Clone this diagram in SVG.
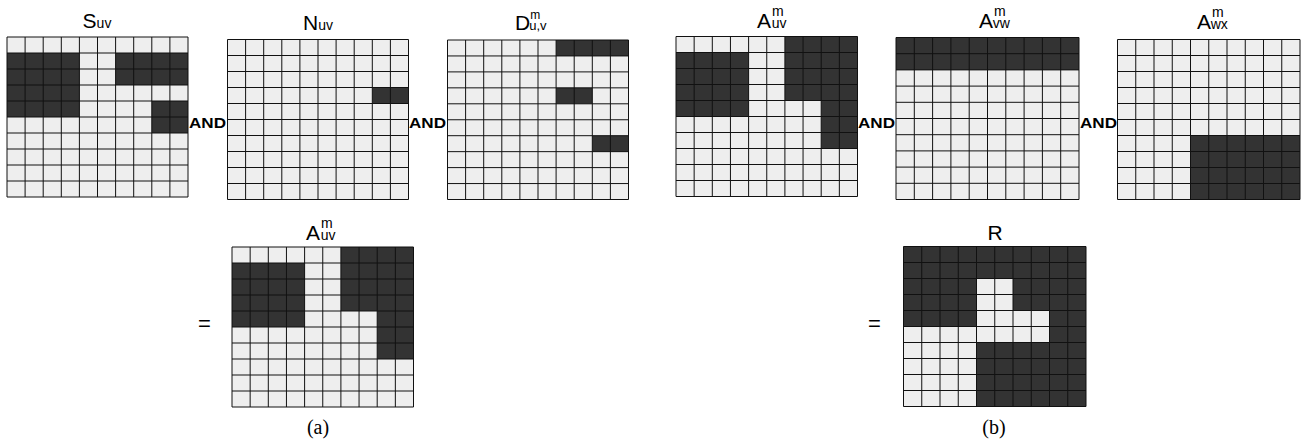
<svg xmlns="http://www.w3.org/2000/svg" xmlns:xlink="http://www.w3.org/1999/xlink" width="1307" height="440" viewBox="0 0 1307 440">
<style>
.lt{fill:#eeeeee}
.dk{fill:#333333}
.ln{fill:none;stroke:#111111;stroke-width:1;vector-effect:non-scaling-stroke}
.t{font-family:"Liberation Sans",Arial,sans-serif;fill:#000;font-size:21px}
.sm{font-size:14px}
.and{font-family:"Liberation Sans",Arial,sans-serif;font-weight:bold;font-size:15px;fill:#000}
.eq{font-family:"Liberation Sans",Arial,sans-serif;font-size:22px;fill:#000}
.cap{font-family:"Liberation Serif","Times New Roman",serif;font-size:20px;fill:#000}
</style>
<defs>
<path id="lines" class="ln" d="M0 0H10V10H0Z M1 0V10M2 0V10M3 0V10M4 0V10M5 0V10M6 0V10M7 0V10M8 0V10M9 0V10 M0 1H10M0 2H10M0 3H10M0 4H10M0 5H10M0 6H10M0 7H10M0 8H10M0 9H10"/>
</defs>
<rect width="1307" height="440" fill="#ffffff"/>

<g id="node-suv">
<g transform="translate(7,37) scale(18.1,16)">
<rect class="lt" width="10" height="10"/>
<path class="dk" d="M0 1H4V5H0Z M6 1H10V3H6Z M8 4H10V6H8Z"/>
<use xlink:href="#lines"/>
</g>
<text class="t" x="97" y="28" text-anchor="middle">S<tspan class="sm">uv</tspan></text>
</g>

<g id="node-nuv">
<g transform="translate(227.5,39.5) scale(18.1,16)">
<rect class="lt" width="10" height="10"/>
<path class="dk" d="M8 3H10V4H8Z"/>
<use xlink:href="#lines"/>
</g>
<text class="t" x="318" y="30" text-anchor="middle">N<tspan class="sm">uv</tspan></text>
</g>

<g id="node-d">
<g transform="translate(447.5,40) scale(18.1,15.95)">
<rect class="lt" width="10" height="10"/>
<path class="dk" d="M6 0H10V1H6Z M6 3H8V4H6Z M8 6H10V7H8Z"/>
<use xlink:href="#lines"/>
</g>
<text class="t" x="515" y="30">D<tspan font-size="12" dx="0" dy="-11">m</tspan><tspan font-size="13" dx="-11" dy="11">u,v</tspan></text>
</g>

<g id="node-auv">
<g transform="translate(676,36.5) scale(18.15,16)">
<rect class="lt" width="10" height="10"/>
<path class="dk" d="M6 0H10V7H8V4H6Z M0 1H4V5H0Z"/>
<use xlink:href="#lines"/>
</g>
<text class="t" x="757" y="28">A<tspan class="sm" dx="1" dy="-12">m</tspan><tspan class="sm" dx="-12" dy="12">uv</tspan></text>
</g>

<g id="node-avw">
<g transform="translate(896,37.5) scale(18.3,16.2)">
<rect class="lt" width="10" height="10"/>
<path class="dk" d="M0 0H10V2H0Z"/>
<use xlink:href="#lines"/>
</g>
<text class="t" x="979" y="28">A<tspan class="sm" dx="1" dy="-12">m</tspan><tspan class="sm" dx="-13" dy="12">vw</tspan></text>
</g>

<g id="node-awx">
<g transform="translate(1117.5,39.5) scale(18.25,16)">
<rect class="lt" width="10" height="10"/>
<path class="dk" d="M4 6H10V10H4Z"/>
<use xlink:href="#lines"/>
</g>
<text class="t" x="1197" y="29">A<tspan class="sm" dx="1" dy="-12">m</tspan><tspan class="sm" dx="-13" dy="12">wx</tspan></text>
</g>

<g id="node-result-a">
<g transform="translate(232,247) scale(18.15,16)">
<rect class="lt" width="10" height="10"/>
<path class="dk" d="M6 0H10V7H8V4H6Z M0 1H4V5H0Z"/>
<use xlink:href="#lines"/>
</g>
<text class="t" x="306" y="240">A<tspan class="sm" dx="1" dy="-12">m</tspan><tspan class="sm" dx="-12" dy="12">uv</tspan></text>
</g>

<g id="node-result-r">
<g transform="translate(903.5,246.5) scale(18.25,16)">
<rect class="dk" width="10" height="10"/>
<path class="lt" d="M4 2H6V4H8V6H4V10H0V5H4Z"/>
<use xlink:href="#lines"/>
</g>
<text class="t" x="995" y="240" text-anchor="middle">R</text>
</g>

<g id="connectors">
<text class="and" x="189" y="128" textLength="37" lengthAdjust="spacingAndGlyphs">AND</text>
<text class="and" x="409" y="128" textLength="37" lengthAdjust="spacingAndGlyphs">AND</text>
<text class="and" x="858" y="128" textLength="37" lengthAdjust="spacingAndGlyphs">AND</text>
<text class="and" x="1080" y="128" textLength="37" lengthAdjust="spacingAndGlyphs">AND</text>
<text class="eq" x="198" y="331">=</text>
<text class="eq" x="868" y="331">=</text>
</g>

<text class="cap" x="318" y="434" text-anchor="middle">(a)</text>
<text class="cap" x="994" y="434" text-anchor="middle">(b)</text>
</svg>
